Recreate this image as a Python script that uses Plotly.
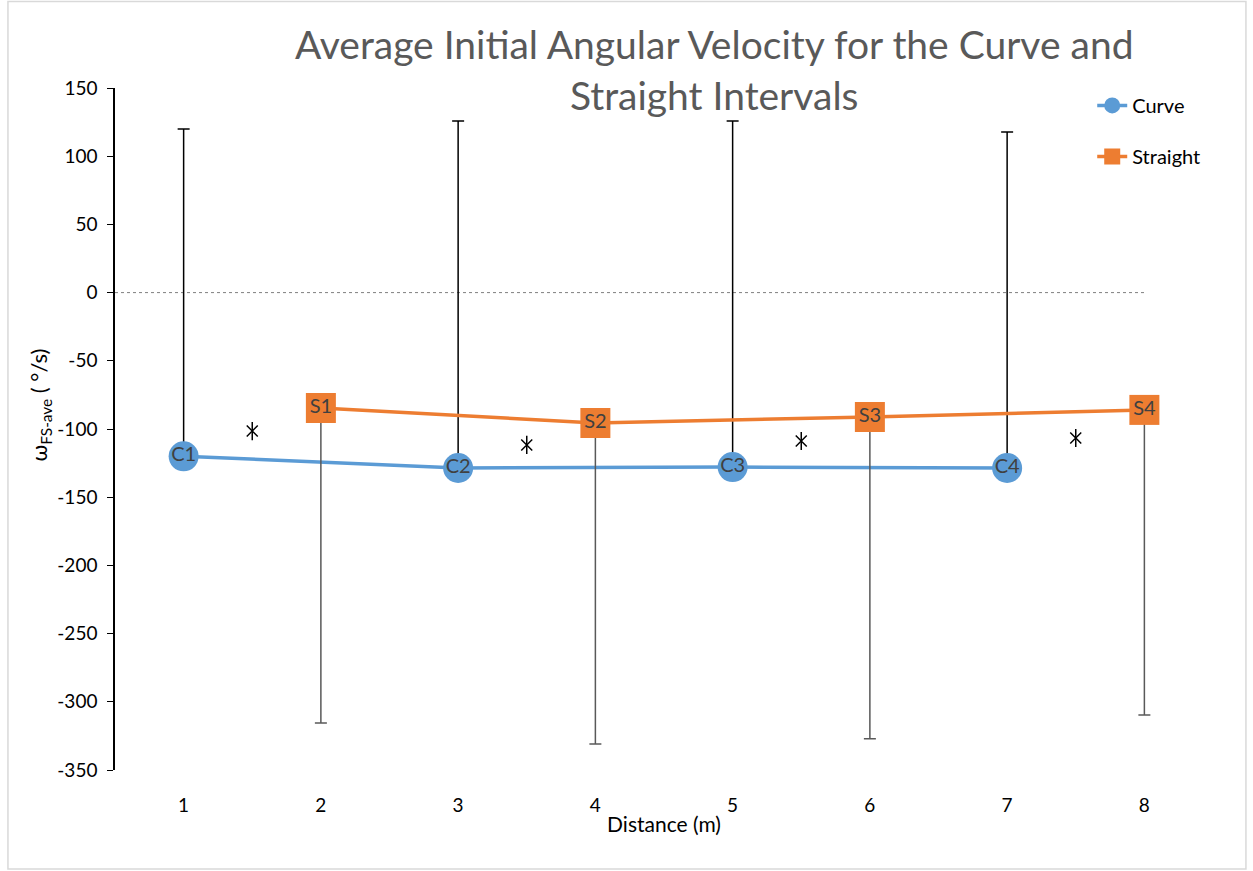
import plotly.graph_objects as go

# Data
curve_x = [1, 3, 5, 7]
curve_y = [-120, -128.6, -127.9, -128.6]
curve_err_up = [240, 254.4, 253.7, 246.3]
curve_labels = ["C1", "C2", "C3", "C4"]

straight_x = [2, 4, 6, 8]
straight_y = [-84.6, -95.6, -91.2, -86.0]
straight_err_down = [230.9, 235.4, 235.8, 223.6]
straight_labels = ["S1", "S2", "S3", "S4"]

mid_x = [1.5, 3.5, 5.5, 7.5]
mid_y = [-101.5, -111.7, -108.8, -106.6]

zero_x = [0.5, 8]
zero_y = [0, 0]

x_ticks = [1, 2, 3, 4, 5, 6, 7, 8]
y_ticks = [150, 100, 50, 0, -50, -100, -150, -200, -250, -300, -350]
y_ticklabels = [str(v) for v in y_ticks]

FONT = "Lato"
BLUE = "#5B9BD5"
ORANGE = "#ED7D31"

fig = go.Figure()

fig.add_trace(go.Scatter(
    x=zero_x, y=zero_y, mode="lines",
    line=dict(color="#7f7f7f", width=1, dash="dot"),
    showlegend=False, hoverinfo="skip"))

fig.add_trace(go.Scatter(
    x=curve_x, y=curve_y, name="Curve", mode="lines+markers+text",
    legendgroup="c",
    text=curve_labels, textposition="middle center",
    textfont=dict(family=FONT, size=20, color="#404040"),
    line=dict(color=BLUE, width=3.5),
    marker=dict(symbol="circle", size=30, color=BLUE),
    error_y=dict(type="data", symmetric=False, array=curve_err_up,
                 arrayminus=[0, 0, 0, 0], color="black", thickness=1.5, width=6)))

fig.add_trace(go.Scatter(
    x=straight_x, y=straight_y, name="Straight", mode="lines+markers+text",
    legendgroup="s",
    text=straight_labels, textposition="middle center",
    textfont=dict(family=FONT, size=20, color="#404040"),
    line=dict(color=ORANGE, width=3.5),
    marker=dict(symbol="square", size=30, color=ORANGE),
    error_y=dict(type="data", symmetric=False, array=[0, 0, 0, 0],
                 arrayminus=straight_err_down, color="#595959", thickness=1.5, width=6)))

fig.add_trace(go.Scatter(
    x=mid_x, y=mid_y, mode="markers", showlegend=False,
    marker=dict(symbol="x-thin-open", size=11, line=dict(color="black", width=1.5), color="black")))
fig.add_trace(go.Scatter(
    x=mid_x, y=mid_y, mode="markers", showlegend=False,
    marker=dict(symbol="line-ns-open", size=13, line=dict(color="black", width=1.5), color="black")))

fig.update_layout(
    width=1253, height=871,
    paper_bgcolor="white", plot_bgcolor="white",
    margin=dict(l=115, r=40, t=88, b=101),
    font=dict(family=FONT, color="black", size=18),
    title=dict(text="Average Initial Angular Velocity for the Curve and<br>Straight Intervals",
               x=0.57, xanchor="center", y=0.932, yanchor="middle",
               font=dict(family=FONT, size=39, color="#595959")),
    legend=dict(x=0.89, y=1.003, xanchor="left", yanchor="top",
                font=dict(family=FONT, size=20, color="black"),
                bgcolor="rgba(0,0,0,0)", tracegroupgap=22),
    xaxis=dict(range=[0.5, 8.5], tickvals=x_ticks, showgrid=False, zeroline=False,
               showline=False, ticks="outside", ticklen=18, tickcolor="rgba(0,0,0,0)",
               tickfont=dict(size=19),
               title=dict(text="Distance (m)", font=dict(size=21), standoff=2)),
    yaxis=dict(range=[-350, 150], tickvals=y_ticks, ticktext=y_ticklabels,
               showgrid=False, zeroline=False,
               showline=True, linecolor="black", linewidth=1.5, ticks="outside",
               ticklen=6, tickcolor="black", tickfont=dict(size=19), ticklabelstandoff=6),
    annotations=[dict(text="ω<sub>FS-ave</sub> ( °/s)", xref="paper", yref="paper",
                      x=-0.068, y=0.535, xanchor="center", yanchor="middle",
                      textangle=-90, showarrow=False,
                      font=dict(family=FONT, size=22, color="black"))],
    shapes=[dict(type="rect", xref="paper", yref="paper",
                 x0=-0.0975, x1=1.030, y0=-0.145, y1=1.127,
                 line=dict(color="#d9d9d9", width=1.5))],
)

fig.write_html("out.html")
